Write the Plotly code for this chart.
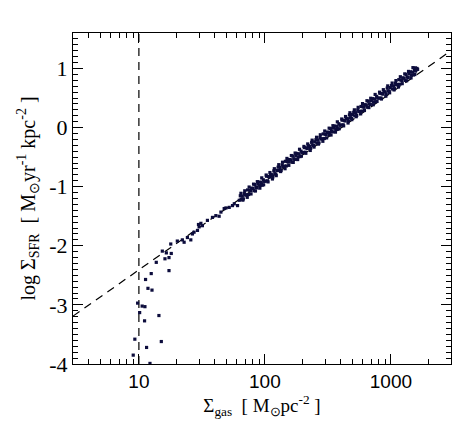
import plotly.graph_objects as go

# log10 of gas surface density
log_gas_low = [0.968, 0.955, 1.088, 1.061, 1.178, 1.159, 1.045, 1.006, 0.990, 1.026,
               1.048, 1.072, 1.104, 1.053, 1.098, 1.239, 1.138, 1.207, 1.239, 1.257,
               1.186, 1.218, 1.253]
log_sfr_low = [-3.58, -3.85, -3.99, -3.72, -3.62, -3.18, -3.27, -3.13, -2.97, -3.02,
               -3.03, -2.72, -2.75, -2.57, -2.47, -2.42, -2.28, -2.22, -2.20, -2.13,
               -2.09, -2.12, -1.97]

log_gas_mid = [1.305, 1.345, 1.359, 1.385, 1.412, 1.425, 1.438, 1.465, 1.478, 1.473,
               1.492, 1.504, 1.544, 1.584, 1.611, 1.637, 1.651, 1.677, 1.691, 1.717,
               1.743, 1.757, 1.783, 1.797]
log_sfr_mid = [-1.92, -1.90, -1.94, -1.86, -1.90, -1.80, -1.77, -1.74, -1.68, -1.64,
               -1.62, -1.66, -1.57, -1.52, -1.49, -1.50, -1.43, -1.37, -1.36, -1.35,
               -1.32, -1.29, -1.32, -1.23]

log_gas_band = [
    1.805, 1.813, 1.821, 1.829, 1.837, 1.845, 1.855, 1.863, 1.871, 1.879, 1.887, 1.895,
    1.905, 1.913, 1.921, 1.929, 1.937, 1.945, 1.955, 1.963, 1.971, 1.979, 1.987, 1.995,
    2.005, 2.013, 2.021, 2.029, 2.037, 2.045, 2.055, 2.063, 2.071, 2.079, 2.087, 2.095,
    2.105, 2.113, 2.121, 2.129, 2.137, 2.145, 2.155, 2.163, 2.171, 2.179, 2.187, 2.195,
    2.205, 2.213, 2.221, 2.229, 2.237, 2.245, 2.255, 2.263, 2.271, 2.279, 2.287, 2.295,
    2.305, 2.313, 2.321, 2.329, 2.337, 2.345, 2.355, 2.363, 2.371, 2.379, 2.387, 2.395,
    2.405, 2.413, 2.421, 2.429, 2.437, 2.445, 2.455, 2.463, 2.471, 2.479, 2.487, 2.495,
    2.505, 2.513, 2.521, 2.529, 2.537, 2.545, 2.555, 2.563, 2.571, 2.579, 2.587, 2.595,
    2.605, 2.613, 2.621, 2.629, 2.637, 2.645, 2.655, 2.663, 2.671, 2.679, 2.687, 2.695,
    2.705, 2.713, 2.721, 2.729, 2.737, 2.745, 2.755, 2.763, 2.771, 2.779, 2.787, 2.795,
    2.805, 2.813, 2.821, 2.829, 2.837, 2.845, 2.855, 2.863, 2.871, 2.879, 2.887, 2.895,
    2.905, 2.913, 2.921, 2.929, 2.937, 2.945, 2.955, 2.963, 2.971, 2.979, 2.987, 2.995,
    3.005, 3.013, 3.021, 3.029, 3.037, 3.045, 3.055, 3.063, 3.071, 3.079, 3.087, 3.095,
    3.105, 3.113, 3.121, 3.129, 3.137, 3.145, 3.155, 3.163, 3.171, 3.179, 3.187, 3.195,
    3.200, 3.207, 3.212, 3.195]
log_sfr_band = [
    -1.154, -1.212, -1.160, -1.207, -1.115, -1.142, -1.137, -1.055, -1.133, -1.060, -1.068, -1.025,
    -1.029, -1.067, -0.965, -1.012, -1.020, -0.957, -0.922, -0.980, -0.928, -0.975, -0.883, -0.910,
    -0.905, -0.823, -0.901, -0.828, -0.836, -0.793, -0.797, -0.835, -0.733, -0.780, -0.788, -0.725,
    -0.670, -0.728, -0.676, -0.723, -0.631, -0.658, -0.653, -0.571, -0.649, -0.576, -0.584, -0.541,
    -0.545, -0.583, -0.481, -0.528, -0.536, -0.473, -0.438, -0.496, -0.444, -0.491, -0.399, -0.426,
    -0.421, -0.339, -0.417, -0.344, -0.352, -0.309, -0.314, -0.352, -0.250, -0.297, -0.305, -0.242,
    -0.206, -0.264, -0.212, -0.259, -0.167, -0.194, -0.189, -0.107, -0.185, -0.112, -0.120, -0.077,
    -0.082, -0.120, -0.018, -0.065, -0.073, -0.010, 0.026, -0.032, 0.020, -0.027, 0.065, 0.038,
    0.043, 0.125, 0.047, 0.120, 0.112, 0.155, 0.150, 0.112, 0.214, 0.167, 0.159, 0.222,
    0.258, 0.200, 0.252, 0.205, 0.297, 0.270, 0.275, 0.357, 0.279, 0.352, 0.344, 0.387,
    0.382, 0.344, 0.446, 0.399, 0.391, 0.454, 0.489, 0.431, 0.483, 0.436, 0.528, 0.501,
    0.497, 0.579, 0.501, 0.574, 0.566, 0.609, 0.604, 0.566, 0.668, 0.621, 0.613, 0.676,
    0.711, 0.653, 0.705, 0.658, 0.750, 0.723, 0.729, 0.811, 0.733, 0.806, 0.798, 0.841,
    0.836, 0.798, 0.900, 0.853, 0.845, 0.908, 0.943, 0.885, 0.937, 0.890, 0.982, 0.955,
    0.975, 1.000, 0.985, 1.010]

# outer edges of the band (points lying farther from the ridge)
log_gas_edge = [
    1.810, 1.825, 1.840, 1.860, 1.875, 1.890, 1.910, 1.925, 1.940, 1.960, 1.975, 1.990,
    2.010, 2.025, 2.040, 2.060, 2.075, 2.090, 2.110, 2.125, 2.140, 2.160, 2.175, 2.190,
    2.210, 2.225, 2.240, 2.260, 2.275, 2.290, 2.310, 2.325, 2.340, 2.360, 2.375, 2.390,
    2.410, 2.425, 2.440, 2.460, 2.475, 2.490, 2.510, 2.525, 2.540, 2.560, 2.575, 2.590,
    2.610, 2.625, 2.640, 2.660, 2.675, 2.690, 2.710, 2.725, 2.740, 2.760, 2.775, 2.790,
    2.810, 2.825, 2.840, 2.860, 2.875, 2.890, 2.910, 2.925, 2.940, 2.960, 2.975, 2.990,
    3.010, 3.025, 3.040, 3.060, 3.075, 3.090, 3.110, 3.125, 3.140, 3.160, 3.175, 3.190]
log_sfr_edge = [
    -1.112, -1.228, -1.070, -1.180, -1.006, -1.123, -0.957, -1.073, -0.915, -1.025, -0.851, -0.968,
    -0.803, -0.919, -0.761, -0.870, -0.696, -0.813, -0.628, -0.744, -0.586, -0.696, -0.522, -0.639,
    -0.473, -0.589, -0.431, -0.541, -0.367, -0.484, -0.319, -0.435, -0.277, -0.387, -0.213, -0.330,
    -0.164, -0.280, -0.122, -0.232, -0.058, -0.175, -0.010, -0.126, 0.032, -0.077, 0.097, -0.020,
    0.145, 0.029, 0.187, 0.077, 0.251, 0.134, 0.300, 0.184, 0.342, 0.232, 0.406, 0.289,
    0.454, 0.338, 0.496, 0.386, 0.560, 0.443, 0.599, 0.483, 0.641, 0.531, 0.705, 0.588,
    0.753, 0.637, 0.795, 0.686, 0.860, 0.743, 0.908, 0.792, 0.950, 0.840, 1.014, 0.897]

# dashed reference relation (end points) and threshold
ks_gas = [3, 3000]
ks_sfr = [-3.19, 1.30]
threshold_gas = 10

x_ticks = [10, 100, 1000]
y_ticks = [-4, -3, -2, -1, 0, 1]

log_gas = log_gas_low + log_gas_mid + log_gas_band + log_gas_edge
log_sfr = log_sfr_low + log_sfr_mid + log_sfr_band + log_sfr_edge
sigma_gas = [10 ** v for v in log_gas]

minor_x = [m * 10 ** e for e in range(0, 4) for m in range(2, 10)]
minor_x = [v for v in minor_x if 3 <= v <= 3000 and v not in x_ticks]

serif = "Liberation Serif, Times New Roman, serif"
sans = "Liberation Sans, Arial, sans-serif"

fig = go.Figure()
fig.add_trace(go.Scatter(
    x=ks_gas, y=ks_sfr, mode="lines",
    line=dict(color="black", width=1.2, dash="8px,6px"),
    hoverinfo="skip"))
fig.add_trace(go.Scatter(
    x=[threshold_gas, threshold_gas], y=[-4, 1.6], mode="lines",
    line=dict(color="black", width=1.2, dash="8px,6px"),
    hoverinfo="skip"))
fig.add_trace(go.Scatter(
    x=sigma_gas, y=log_sfr, mode="markers",
    marker=dict(symbol="square", size=3.2, color="#0c0c3c", line=dict(width=0))))

# page body has an 8px margin, so the figure is a bit smaller than the window
fig.update_layout(
    width=464, height=424,
    margin=dict(l=65, r=21, t=25, b=68),
    paper_bgcolor="white", plot_bgcolor="white",
    showlegend=False,
    font=dict(family=serif, color="black"),
)

fig.update_xaxes(
    type="log", range=[0.4771, 3.4771],
    tickvals=x_ticks, ticktext=[str(v) for v in x_ticks],
    tickfont=dict(family=sans, size=19),
    ticks="inside", ticklen=10, tickcolor="black", tickwidth=1,
    minor=dict(tickvals=minor_x, ticks="inside", ticklen=5, tickcolor="black"),
    showline=True, linecolor="black", linewidth=1, mirror="ticks",
    showgrid=False, zeroline=False,
    title=dict(text="Σ<sub>gas</sub>\u00a0\u00a0[ M<sub>⊙</sub>pc<sup>-2</sup> ]",
               font=dict(family=serif, size=19), standoff=4),
)
fig.update_yaxes(
    range=[-4, 1.6],
    tickvals=y_ticks, ticktext=[str(v) for v in y_ticks],
    tickfont=dict(family=serif, size=22),
    ticks="inside", ticklen=10, tickcolor="black", tickwidth=1,
    minor=dict(dtick=0.1, ticks="inside", ticklen=5, tickcolor="black"),
    showline=True, linecolor="black", linewidth=1, mirror="ticks",
    showgrid=False, zeroline=False,
    title=dict(text="log Σ<sub>SFR</sub>\u00a0\u00a0[ M<sub>⊙</sub>yr<sup>-1</sup> kpc<sup>-2</sup> ]",
               font=dict(family=serif, size=20), standoff=8),
)

fig.write_html("out.html")
